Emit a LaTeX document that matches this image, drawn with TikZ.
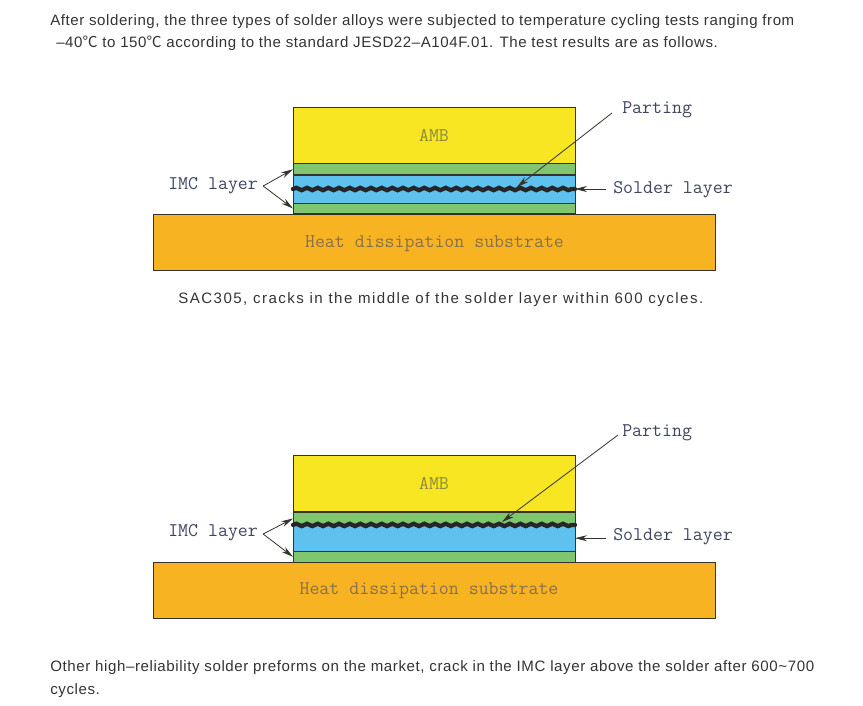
\documentclass[tikz,border=0pt]{standalone}
\usepackage{fontspec}
\setmainfont[LetterSpace=3.8]{Liberation Sans}
\newfontfamily\cjk{Noto Sans CJK SC}
\newfontfamily\capfont[LetterSpace=9.8]{Liberation Sans}
\newfontfamily\lastfont[LetterSpace=4]{Liberation Sans}
\usepackage{xcolor}
\usetikzlibrary{arrows.meta, decorations.pathmorphing}
\definecolor{ambfill}{HTML}{F8E622}
\definecolor{imcfill}{HTML}{7FC66F}
\definecolor{solderfill}{HTML}{5FC1EE}
\definecolor{basefill}{HTML}{F8B323}
\definecolor{edgecol}{HTML}{33332B}
\definecolor{notecol}{HTML}{3D4660}
\definecolor{bodycol}{HTML}{333333}
\definecolor{ambtext}{HTML}{8C8A3C}
\definecolor{basetextcol}{HTML}{86704A}

\begin{document}
\begin{tikzpicture}[
  x=0.75pt, y=-0.75pt,
  layer/.style={draw=edgecol, line width=0.75pt, inner sep=0pt, outer sep=0pt, minimum width=211.5pt},
  amb/.style={layer, fill=ambfill, minimum height=42pt, font=\ttfamily\fontsize{14.5}{14.5}\selectfont, text=ambtext},
  imc/.style={layer, fill=imcfill},
  solder/.style={layer, fill=solderfill},
  base/.style={draw=edgecol, line width=0.75pt, fill=basefill, inner sep=0pt, outer sep=0pt,
               minimum width=421.5pt, minimum height=42.5pt},
  basetext/.style={font=\ttfamily\fontsize{14.5}{14.5}\selectfont, text=basetextcol, inner sep=0pt},
  note/.style={font=\ttfamily\fontsize{14.5}{14.5}\selectfont, text=notecol, inner sep=0pt, anchor=west},
  body/.style={font=\fontsize{11.3}{12}\selectfont, text=bodycol, inner sep=0pt, anchor=west},
  arr/.style={-{Stealth[length=9pt, width=4.5pt]}, line width=0.6pt, edgecol},
  crack/.style={line width=3.2pt, black!85, line cap=round,
                decorate, decoration={snake, segment length=8pt, amplitude=0.9pt}},
]
\useasboundingbox (0,0) rectangle (863,706);

% top text
\node[body] (introA) at (50,22) {After soldering, the three types of solder alloys were subjected to temperature cycling tests ranging from};
\node[body] (introB) at (56,43) {–40{\cjk ℃} to 150{\cjk ℃} according to the standard JESD22–A104F.01. The test results are as follows.};

% upper stack
\node[amb]    (ambA)  at (434,135.5) {AMB};
\node[imc, minimum height=8.6pt]  (imctopA) at (434,169.25) {};
\node[solder, minimum height=21pt] (soldA)  at (434,189) {};
\node[imc, minimum height=8.2pt]  (imcbotA) at (434,208.5) {};
\node[base]   (baseA) at (434,242.5) {};
\node[basetext] (basetextA) at (434.5,243.5) {Heat dissipation substrate};
\node[note] (imcnoteA)  at (168,186) {IMC layer};
\node[note] (partA)     at (622,110) {Parting};
\node[note] (solnoteA)  at (613,190) {Solder layer};
\draw[crack] (soldA.west) -- (soldA.east);
\coordinate (tipA) at (517,187);
\draw[arr] ([shift={(5,0)}]imcnoteA.east) -- (imctopA.west);
\draw[arr] ([shift={(5,0)}]imcnoteA.east) -- (imcbotA.west);
\draw[arr] ([shift={(-10,3)}]partA.west) -- (tipA);
\draw[arr] ([xshift=-5.25pt]solnoteA.west |- soldA.east) -- (soldA.east);
\node[body] (capA) at (178,300) {\capfont SAC305, cracks in the middle of the solder layer within 600 cycles.};

% lower stack
\node[amb]    (ambB)  at (434,483.5) {AMB};
\node[imc, minimum height=9.75pt]  (imctopB) at (434,518.5) {};
\node[solder, minimum height=19.9pt] (soldB)  at (434,538.2) {};
\node[imc, minimum height=8pt]  (imcbotB) at (434,556.8) {};
\node[base]   (baseB) at (434,590.5) {};
\node[basetext] (basetextB) at (429,591) {Heat dissipation substrate};
\node[note] (imcnoteB)  at (168,533) {IMC layer};
\node[note] (partB)     at (622,433) {Parting};
\node[note] (solnoteB)  at (613,537) {Solder layer};
\draw[crack] (soldB.north west) -- (soldB.north east);
\coordinate (tipB) at (502,522);
\draw[arr] ([shift={(5,1)}]imcnoteB.east) -- (imctopB.west);
\draw[arr] ([shift={(5,1)}]imcnoteB.east) -- (imcbotB.west);
\draw[arr] ([shift={(-4,2)}]partB.west) -- (tipB);
\draw[arr] ([xshift=-5.25pt]solnoteB.west |- soldB.east) -- (soldB.east);

% bottom text
\node[body] (capB) at (50,668) {\lastfont Other high–reliability solder preforms on the market, crack in the IMC layer above the solder after 600\textasciitilde700};
\node[body] (capC) at (50,691) {\lastfont cycles.};
\end{tikzpicture}
\end{document}
